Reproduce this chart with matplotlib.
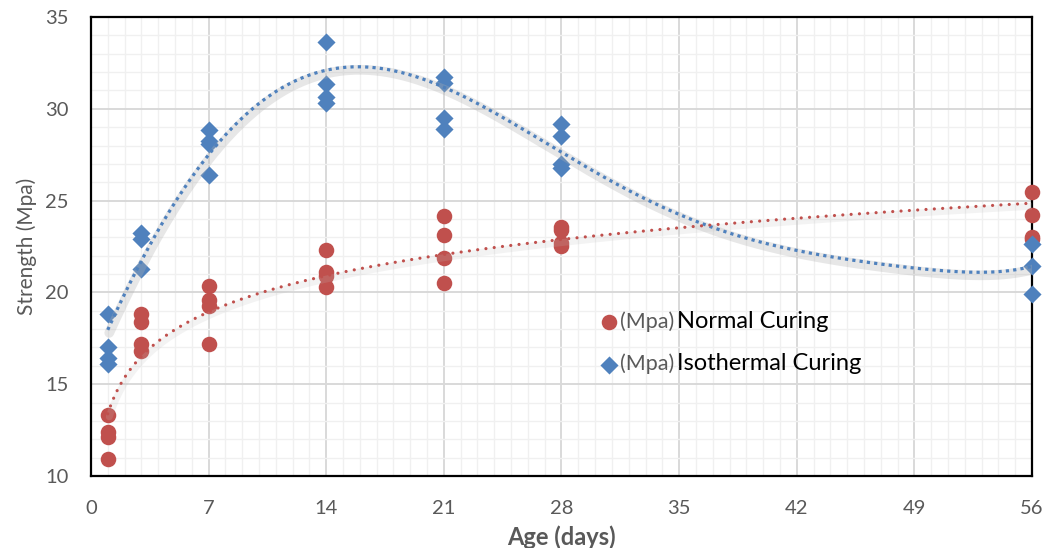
import numpy as np
import matplotlib
matplotlib.use("Agg")
import matplotlib.pyplot as plt
from matplotlib.transforms import offset_copy
from matplotlib.ticker import MultipleLocator

plt.rcParams['font.family'] = ['Lato', 'DejaVu Sans']

# data
normal_age = [1, 1, 1, 1, 3, 3, 3, 3, 7, 7, 7, 7, 14, 14, 14, 14,
              21, 21, 21, 21, 28, 28, 28, 28, 56, 56, 56, 56]
normal_strength = [10.9, 12.1, 12.4, 13.3, 18.8, 18.4, 17.2, 16.8,
                   20.35, 19.6, 19.25, 17.2, 22.3, 21.1, 20.9, 20.3,
                   24.15, 23.1, 21.85, 20.5, 23.55, 23.4, 22.7, 22.5,
                   25.45, 24.2, 23.0, 22.9]

iso_age = [1, 1, 1, 1, 3, 3, 3, 7, 7, 7, 7, 14, 14, 14, 14,
           21, 21, 21, 21, 28, 28, 28, 28, 56, 56, 56]
iso_strength = [18.8, 17.05, 16.45, 16.1, 23.25, 22.9, 21.3,
                28.85, 28.25, 28.1, 26.4, 33.65, 31.35, 30.65, 30.3,
                31.75, 31.4, 29.5, 28.9, 29.15, 28.5, 27.0, 26.8,
                22.65, 21.45, 19.9]

# isothermal trendline (polynomial trendline)
iso_trend_age = [1, 3.5, 7, 10.65, 12.4, 14, 15.8, 18.4, 21, 24.3,
                 27.9, 30.3, 35, 36.25, 42, 49, 53, 56]
iso_trend_val = [17.9, 22.7, 27.5, 30.5, 31.6, 32.1, 32.45, 32.1, 31.3,
                 29.4, 27.5, 26.5, 24.4, 23.8, 22.2, 21.3, 21.15, 21.4]

x_ticks = [0, 7, 14, 21, 28, 35, 42, 49, 56]
y_ticks = [10, 15, 20, 25, 30, 35]
legend_names = ['Normal Curing', 'Isothermal Curing']

red = '#C0504D'
blue = '#4F81BD'
gray_txt = '#595959'

fig = plt.figure(figsize=(10.43, 5.48), dpi=100)
ax = fig.add_axes([0.0872, 0.1314, 0.9023, 0.8376])

ax.set_xlim(0, 56)
ax.set_ylim(10, 35)
ax.set_xticks(x_ticks)
ax.set_yticks(y_ticks)
ax.xaxis.set_minor_locator(MultipleLocator(1))
ax.yaxis.set_minor_locator(MultipleLocator(1))
ax.grid(which='major', color='#d9d9d9', linewidth=1.4, zorder=0)
ax.grid(which='minor', color='#f0f0f0', linewidth=1.0, zorder=0)
ax.set_axisbelow(True)
ax.tick_params(which='both', length=0)
ax.tick_params(axis='x', pad=17, labelsize=14.5, labelcolor=gray_txt)
ax.tick_params(axis='y', pad=16, labelsize=14.5, labelcolor=gray_txt)
for sp in ax.spines.values():
    sp.set_linewidth(1.6)
    sp.set_color('black')

ax.scatter(normal_age, normal_strength, s=125, marker='o', color=red,
           zorder=3, clip_on=False, linewidths=0, label='(Mpa)')
ax.scatter(iso_age, iso_strength, s=85, marker='D', color=blue,
           zorder=3, clip_on=False, linewidths=0, label='(Mpa)')

# trendlines: log fit for normal curing, smooth poly through read values
xs = np.linspace(1, 56, 400)
a, b = np.polyfit(np.log(normal_age), normal_strength, 1)
red_fit = a * np.log(xs) + b
coef = np.polyfit(np.array(iso_trend_age) / 56, iso_trend_val, 7)
blue_fit = np.polyval(coef, xs / 56)

shadow = offset_copy(ax.transData, fig=fig, x=1.5, y=-3, units='dots')
ax.plot(xs, blue_fit, color='#b0b0b0', alpha=0.3, linewidth=7,
        solid_capstyle='round', transform=shadow, zorder=3.5)
ax.plot(xs, red_fit, color='#c0c0c0', alpha=0.18, linewidth=5,
        solid_capstyle='round', transform=shadow, zorder=3.5)
ax.plot(xs, blue_fit, color=blue, linewidth=2.3, linestyle=(0, (1, 1.3)),
        dash_capstyle='butt', zorder=4)
ax.plot(xs, red_fit, color=red, linewidth=2.3, linestyle=(0, (0.01, 2.6)),
        dash_capstyle='round', zorder=4)

ax.set_xlabel('Age (days)', fontsize=17, fontweight='bold', color=gray_txt,
              labelpad=6)
ax.set_ylabel('Strength (Mpa)', fontsize=15, color=gray_txt, labelpad=6)

leg = ax.legend(loc='center left', bbox_to_anchor=(0.526, 0.29),
                frameon=False, fontsize=15.5, labelspacing=1.0,
                handletextpad=0.0, handlelength=1.1, borderpad=0)
for t in leg.get_texts():
    t.set_color(gray_txt)

# second part of each legend entry is black and larger
fig.canvas.draw()
W, H = fig.canvas.get_width_height()
for t, name in zip(leg.get_texts(), legend_names):
    bb = t.get_window_extent()
    fig.text((bb.x1 + 2) / W, (bb.y0 + bb.y1) / 2 / H, name,
             ha='left', va='center', fontsize=17, color='black')

fig.savefig('out.png', dpi=100)
